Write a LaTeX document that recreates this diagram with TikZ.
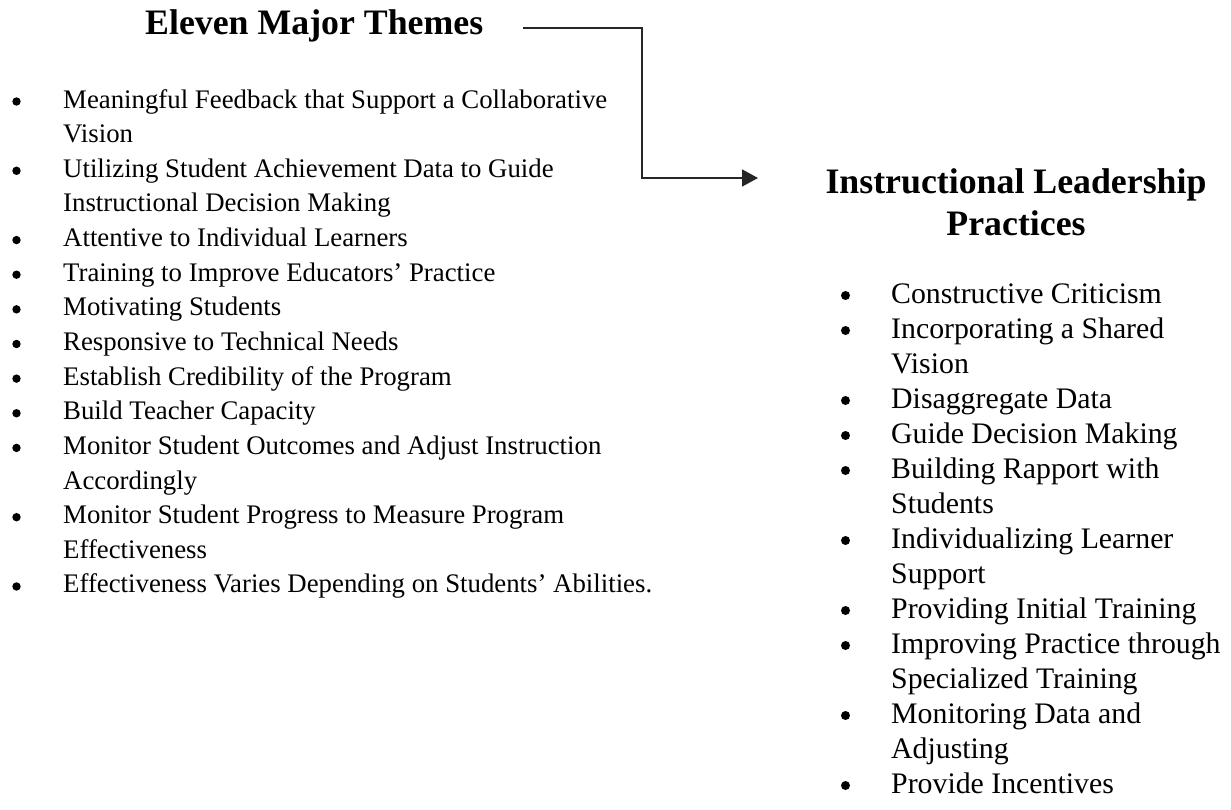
\documentclass[tikz,border=0pt]{standalone}
\usepackage{fontspec}
\setmainfont{Liberation Serif}
\usetikzlibrary{arrows.meta}
\tikzset{
  head/.style={inner sep=0pt, anchor=base, font=\fontsize{35.8}{42}\selectfont\bfseries},
  ltxt/.style={inner sep=0pt, anchor=base west, font=\fontsize{26.8}{34}\selectfont},
  rtxt/.style={inner sep=0pt, anchor=base west, font=\fontsize{29.8}{35}\selectfont},
  lbul/.style={circle, fill=black, draw=none, inner sep=0pt, minimum size=8.4pt},
  rbul/.style={circle, fill=black, draw=none, inner sep=0pt, minimum size=9pt},
  conn/.style={line width=1.6pt, draw=black!85, -{Triangle[length=16pt,width=17pt]}}
}
\begin{document}
\begin{tikzpicture}[x=1pt,y=-1pt]
\useasboundingbox (0,0) rectangle (1231,809);
% titles
\node[head, anchor=base west] (t1) at (145,34) {Eleven Major Themes};
\node[head] (h1) at (1016,193) {Instructional Leadership};
\node[head] (h2) at (1016,235) {Practices};
% left list
\def\lp{34.64}
\foreach \i/\b/\t in {
 0/1/Meaningful Feedback that Support a Collaborative,
 1/0/Vision,
 2/1/Utilizing Student Achievement Data to Guide,
 3/0/Instructional Decision Making,
 4/1/Attentive to Individual Learners,
 5/1/Training to Improve Educators’ Practice,
 6/1/Motivating Students,
 7/1/Responsive to Technical Needs,
 8/1/Establish Credibility of the Program,
 9/1/Build Teacher Capacity,
 10/1/Monitor Student Outcomes and Adjust Instruction,
 11/0/Accordingly,
 12/1/Monitor Student Progress to Measure Program,
 13/0/Effectiveness,
 14/1/Effectiveness Varies Depending on Students’ Abilities.}{
  \node[ltxt] (l\i) at (63,108+\i*\lp) {\t};
  \ifnum\b=1 \node[lbul] (lb\i) at (16.5,101.5+\i*\lp) {};\fi
}
% right list
\def\rp{35}
\foreach \i/\b/\t in {
 0/1/Constructive Criticism,
 1/1/Incorporating a Shared,
 2/0/Vision,
 3/1/Disaggregate Data,
 4/1/Guide Decision Making,
 5/1/Building Rapport with,
 6/0/Students,
 7/1/Individualizing Learner,
 8/0/Support,
 9/1/Providing Initial Training,
 10/1/Improving Practice through,
 11/0/Specialized Training,
 12/1/Monitoring Data and,
 13/0/Adjusting,
 14/1/Provide Incentives}{
  \node[rtxt] (r\i) at (891,303+\i*\rp) {\t};
  \ifnum\b=1 \node[rbul] (rb\i) at (845.5,295.5+\i*\rp) {};\fi
}
% connector
\coordinate (s) at (523,28);
\coordinate (k) at (642,178);
\coordinate (e) at (758,178);
\draw[conn] (s) -| (k) -- (e);
\end{tikzpicture}
\end{document}
